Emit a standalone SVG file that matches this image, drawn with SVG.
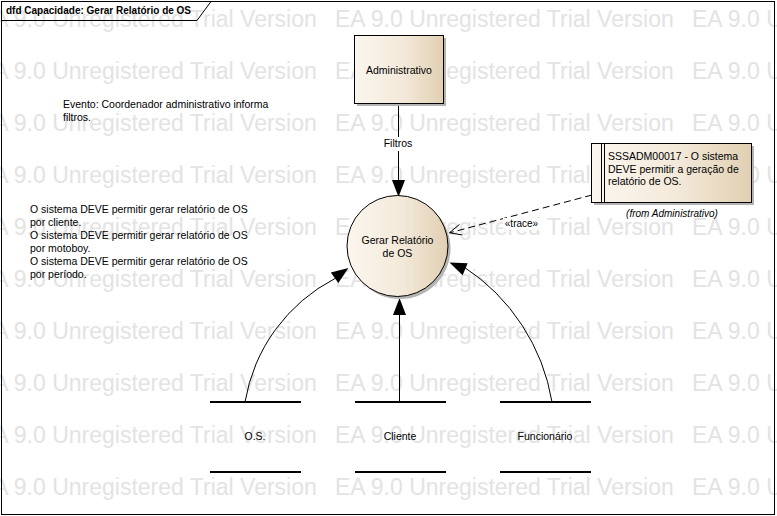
<svg xmlns="http://www.w3.org/2000/svg" width="777" height="516" viewBox="0 0 777 516">
<style>
.t{font-family:"Liberation Sans",Arial,sans-serif;font-size:10.5px;fill:#000}
.c{text-anchor:middle}
.wm{font-family:"Liberation Sans",Arial,sans-serif;font-size:23px;fill:#e3e3e3}
.edge{fill:none;stroke:#000;stroke-width:1}
.store{stroke:#000;stroke-width:2}
.trace{fill:none;stroke:#000;stroke-width:1;stroke-dasharray:7 4}
.shadow{fill:#b4b4b4}
.node{fill:url(#fillg);stroke:#000;stroke-width:1}
</style>
<defs>
<linearGradient id="fillg" x1="0" y1="0" x2="1" y2="0">
<stop offset="0" stop-color="#fbf6ee"/>
<stop offset="0.55" stop-color="#f3e9da"/>
<stop offset="1" stop-color="#e1cfb2"/>
</linearGradient>
<path id="ah" d="M0,0 L-17,-6.5 L-17,6.5 Z" fill="#000"/>
<g id="wmrow">
<text class="wm" x="-22" y="0">EA 9.0 Unregistered Trial Version</text>
<text class="wm" x="335" y="0">EA 9.0 Unregistered Trial Version</text>
<text class="wm" x="692" y="0">EA 9.0 Unregistered Trial Version</text>
</g>
</defs>
<rect width="777" height="516" fill="#fff"/>
<g id="watermark">
<use href="#wmrow" y="27"/>
<use href="#wmrow" y="79"/>
<use href="#wmrow" y="131"/>
<use href="#wmrow" y="183"/>
<use href="#wmrow" y="235"/>
<use href="#wmrow" y="287"/>
<use href="#wmrow" y="339"/>
<use href="#wmrow" y="391"/>
<use href="#wmrow" y="443"/>
<use href="#wmrow" y="495"/>
</g>
<g id="frame">
<rect x="1.5" y="1.5" width="773" height="513" fill="none" stroke="#000"/>
<path d="M1.5,20.5 H197 L211,1.5" fill="none" stroke="#000"/>
<text class="t" x="6" y="14" style="font-weight:bold;font-size:10px">dfd Capacidade: Gerar Relatório de OS</text>
</g>
<g id="notes">
<text class="t" x="63" y="108">Evento: Coordenador administrativo informa</text>
<text class="t" x="63" y="121">filtros.</text>
<text class="t" x="30" y="213">O sistema DEVE permitir gerar relatório de OS</text>
<text class="t" x="30" y="226">por cliente.</text>
<text class="t" x="30" y="239">O sistema DEVE permitir gerar relatório de OS</text>
<text class="t" x="30" y="252">por motoboy.</text>
<text class="t" x="30" y="265">O sistema DEVE permitir gerar relatório de OS</text>
<text class="t" x="30" y="278">por período.</text>
</g>
<g id="connectors">
<line class="edge" x1="398.5" y1="104" x2="398.5" y2="181"/>
<rect x="383" y="137" width="31" height="14" fill="#fff"/>
<text class="t c" x="398" y="147">Filtros</text>
<use href="#ah" transform="translate(398.5,197) rotate(90)"/>
<path class="trace" d="M592,195 L450,232.7"/>
<polyline class="edge" points="459.5,224.4 449.5,232.7 462.3,235"/>
<rect x="503" y="218" width="37" height="12" fill="#fff"/>
<text class="t c" x="521.5" y="227" style="font-size:10px">«trace»</text>
<path class="edge" d="M245,402 A171,171 0 0 1 335,278.5"/>
<use href="#ah" transform="translate(348.5,268) rotate(-35)"/>
<line class="edge" x1="399.5" y1="402" x2="399.5" y2="314"/>
<use href="#ah" transform="translate(399.5,298) rotate(-90)"/>
<path class="edge" d="M552,402 A201,201 0 0 0 464,267"/>
<use href="#ah" transform="translate(449.5,262.5) rotate(-157)"/>
</g>
<g id="administrativo">
<rect class="shadow" x="357" y="38" width="89" height="68"/>
<rect class="node" x="354.5" y="35.5" width="89" height="68"/>
<text class="t c" x="399" y="74">Administrativo</text>
</g>
<g id="gerar-relatorio">
<circle class="shadow" cx="400" cy="248.5" r="50.5"/>
<circle class="node" cx="397.5" cy="246" r="50.5"/>
<text class="t c" x="397.5" y="244">Gerar Relatório</text>
<text class="t c" x="397.5" y="257">de OS</text>
</g>
<g id="requisito">
<rect class="shadow" x="594" y="146" width="160" height="59"/>
<rect class="node" x="591.5" y="143.5" width="160" height="59"/>
<line x1="601.5" y1="143.5" x2="601.5" y2="202.5" stroke="#000"/>
<line x1="604.5" y1="143.5" x2="604.5" y2="202.5" stroke="#000"/>
<text class="t" x="608" y="160">SSSADM00017 - O sistema</text>
<text class="t" x="608" y="172.5">DEVE permitir a geração de</text>
<text class="t" x="608" y="185">relatório de OS.</text>
<text class="t c" x="672" y="217" style="font-style:italic;font-size:10px">(from Administrativo)</text>
</g>
<g id="store-os">
<line class="store" x1="210" y1="402" x2="301" y2="402"/>
<line class="store" x1="210" y1="472" x2="301" y2="472"/>
<text class="t c" x="255" y="440">O.S.</text>
</g>
<g id="store-cliente">
<line class="store" x1="355" y1="402" x2="446" y2="402"/>
<line class="store" x1="355" y1="472" x2="446" y2="472"/>
<text class="t c" x="400" y="440">Cliente</text>
</g>
<g id="store-funcionario">
<line class="store" x1="500" y1="402" x2="591" y2="402"/>
<line class="store" x1="500" y1="472" x2="591" y2="472"/>
<text class="t c" x="545" y="440">Funcionário</text>
</g>
</svg>
